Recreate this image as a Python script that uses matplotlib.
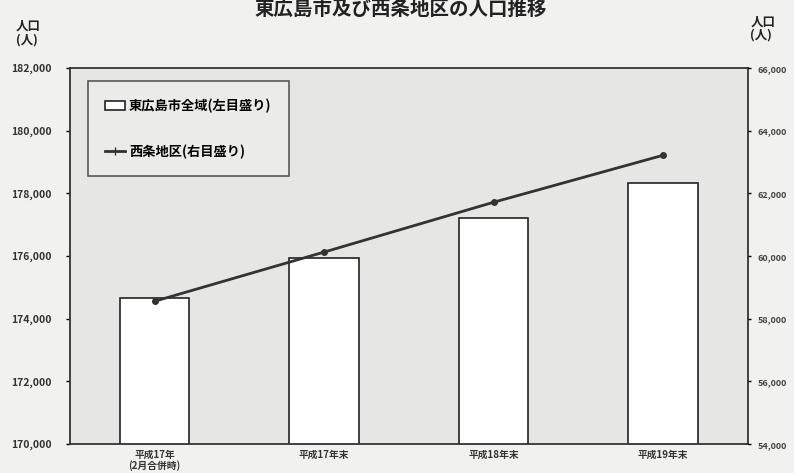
import matplotlib
matplotlib.use("Agg")
import matplotlib.pyplot as plt
from matplotlib.lines import Line2D
from matplotlib.patches import Patch

plt.rcParams['font.family'] = ['Noto Sans CJK JP', 'DejaVu Sans']

# データ
categories = ["平成17年\n(2月合併時)", "平成17年末", "平成18年末", "平成19年末"]
city_total = [174660, 175940, 177210, 178330]     # 東広島市全域 (左目盛り)
saijo = [58560, 60130, 61720, 63220]              # 西条地区 (右目盛り)
left_ticks = [170000, 172000, 174000, 176000, 178000, 180000, 182000]
right_ticks = [54000, 56000, 58000, 60000, 62000, 64000, 66000]

fig = plt.figure(figsize=(7.94, 4.73), dpi=100, facecolor="#f1f1ef")
ax = fig.add_axes([0.088, 0.061, 0.854, 0.795], facecolor="#e6e6e4")

x = list(range(len(categories)))
ax.bar(x, city_total, width=0.41, color="white", edgecolor="#222222", linewidth=1.2, zorder=2)
ax.set_xlim(-0.5, len(categories) - 0.5)
ax.set_ylim(left_ticks[0], left_ticks[-1])
ax.set_yticks(left_ticks)
ax.set_yticklabels([f"{v:,}" for v in left_ticks], fontsize=7.5, fontweight="bold", color="#333333")
ax.set_xticks(x)
ax.set_xticklabels(categories, fontsize=7, fontweight="bold", color="#333333", linespacing=1.1)
ax.tick_params(axis="x", length=0, pad=4)
ax.tick_params(axis="y", length=3, width=1, pad=10)
for s in ax.spines.values():
    s.set_color("#333333")
    s.set_linewidth(1.3)

ax2 = ax.twinx()
ax2.plot(x, saijo, color="#333333", linewidth=2, marker="o", markersize=4, zorder=3)
ax2.set_ylim(right_ticks[0], right_ticks[-1])
ax2.set_yticks(right_ticks)
ax2.set_yticklabels([f"{v:,}" for v in right_ticks], fontsize=6.5, fontweight="bold", color="#444444")
ax2.tick_params(axis="y", length=2, width=1, pad=5)
for s in ax2.spines.values():
    s.set_visible(False)

handles = [
    Patch(facecolor="white", edgecolor="#222222", linewidth=1.2),
    Line2D([0], [0], color="#333333", linewidth=2, marker="+", markersize=6),
]
labels = ["東広島市全域(左目盛り)", "西条地区(右目盛り)"]
leg = ax.legend(handles, labels, loc="upper left", bbox_to_anchor=(0.027, 0.965),
                frameon=True, fancybox=False, edgecolor="#333333",
                prop={"size": 9.5, "weight": "bold"}, labelspacing=2.4,
                borderpad=1.3, handlelength=1.5, handletextpad=0.3,
                borderaxespad=0)
leg.get_frame().set_linewidth(1.2)
leg.get_frame().set_facecolor("#ededeb")
leg.set_zorder(5)

fig.text(0.505, 1.0, "東広島市及び西条地区の人口推移", ha="center", va="top",
         fontsize=14, fontweight="bold", color="#222222")
fig.text(0.02, 0.93, "人口\n(人)", ha="left", va="center", fontsize=9,
         fontweight="bold", color="#222222", linespacing=1.0)
fig.text(0.945, 0.94, "人口\n(人)", ha="left", va="center", fontsize=9,
         fontweight="bold", color="#222222", linespacing=1.0)

fig.savefig("out.png", dpi=100, facecolor=fig.get_facecolor())
